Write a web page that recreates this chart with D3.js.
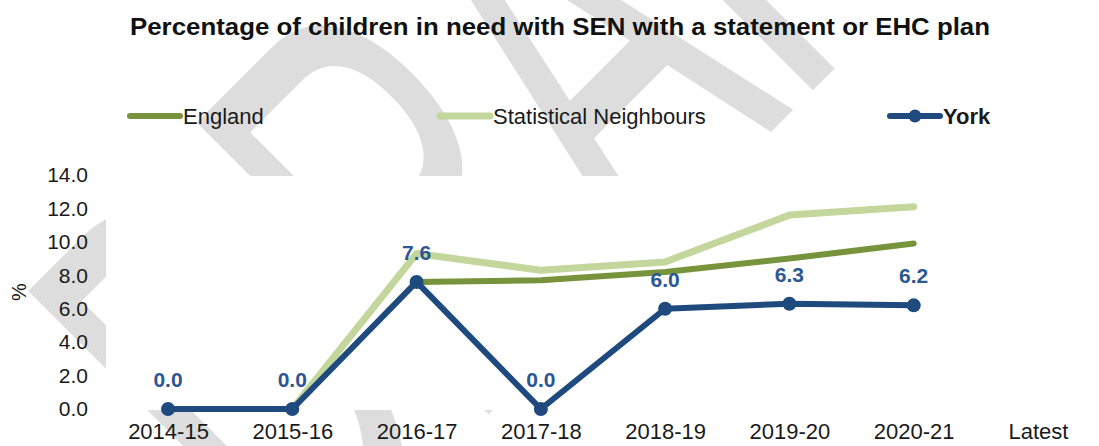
<!DOCTYPE html>
<html><head><meta charset="utf-8">
<script src="https://cdn.jsdelivr.net/npm/d3@7"></script>
<style>body{margin:0;background:#fff;overflow:hidden}</style>
</head><body><svg id="c" width="1099" height="446"></svg>
<script>
const categories = ["2014-15","2015-16","2016-17","2017-18","2018-19","2019-20","2020-21","Latest"];
const englandValues = [null, null, 7.6, 7.7, 8.2, 9.0, 9.9, null];
const statNeighValues = [null, 0.0, 9.3, 8.3, 8.8, 11.6, 12.1, null];
const yorkValues = [0.0, 0.0, 7.6, 0.0, 6.0, 6.3, 6.2, null];
const yTicks = [0, 2, 4, 6, 8, 10, 12, 14];
const seriesNames = ["England", "Statistical Neighbours", "York"];
const titleText = "Percentage of children in need with SEN with a statement or EHC plan";
const yAxisLabel = "%";
const watermarkText = "DRAFT";

const svg = d3.select("#c");
const colEng = "#77933c", colSN = "#c3d69b", colYork = "#1f4a7e", colLab = "#2c5793";

// watermark (stretched, rotated)
svg.append("text").text(watermarkText)
  .attr("transform", "translate(301,602) rotate(-45) scale(0.55,1)")
  .attr("font-family", "Liberation Sans, Arial").attr("font-weight", 400).attr("font-size", 600)
  .attr("fill", "#dddddd");

// plot area
const x = d3.scalePoint().domain(categories).range([168, 1038]);
const y = d3.scaleLinear().domain([0, 14]).range([409, 175]);
svg.append("rect").attr("x", 106).attr("y", 176).attr("width", 993).attr("height", 234).attr("fill", "#fff");

// title
svg.append("text").text(titleText).attr("x", 130).attr("y", 35)
  .attr("font-family", "Liberation Sans, Arial").attr("font-weight", 700).attr("font-size", 23)
  .attr("textLength", 860).attr("lengthAdjust", "spacingAndGlyphs").attr("fill", "#111");

// legend
const legend = [
  {name: seriesNames[0], x: 130, color: colEng, w: 6, marker: false, bold: false},
  {name: seriesNames[1], x: 440, color: colSN, w: 7, marker: false, bold: false},
  {name: seriesNames[2], x: 890, color: colYork, w: 6, marker: true, bold: true}
];
legend.forEach(l => {
  svg.append("line").attr("x1", l.x).attr("x2", l.x + 50).attr("y1", 116).attr("y2", 116)
    .attr("stroke", l.color).attr("stroke-width", l.w).attr("stroke-linecap", "round");
  if (l.marker) svg.append("circle").attr("cx", l.x + 25).attr("cy", 116).attr("r", 6.5).attr("fill", l.color);
  svg.append("text").text(l.name).attr("x", l.x + 53).attr("y", 124)
    .attr("font-family", "Liberation Sans, Arial").attr("font-size", 22)
    .attr("font-weight", l.bold ? 700 : 400).attr("fill", "#1a1a1a");
});

// y axis
const ya = svg.append("g").attr("transform", "translate(106,0)")
  .call(d3.axisLeft(y).tickValues(yTicks).tickFormat(d3.format(".1f")).tickSize(0).tickPadding(18));
ya.select(".domain").remove();
ya.selectAll("text").attr("font-family", "Liberation Sans, Arial").attr("font-size", 21).attr("fill", "#1a1a1a");

svg.append("text").text(yAxisLabel).attr("transform", "translate(26,292) rotate(-90)")
  .attr("text-anchor", "middle").attr("font-family", "Liberation Sans, Arial").attr("font-size", 20).attr("fill", "#1a1a1a");

// x axis
const xa = svg.append("g").attr("transform", "translate(0,409)")
  .call(d3.axisBottom(x).tickSize(0).tickPadding(14));
xa.select(".domain").remove();
xa.selectAll("text").attr("font-family", "Liberation Sans, Arial").attr("font-size", 22).attr("fill", "#1a1a1a");

// lines
const line = d3.line().defined(d => d.v != null).x(d => x(d.c)).y(d => y(d.v));
const mk = vals => categories.map((c, i) => ({c, v: vals[i]}));
svg.append("path").datum(mk(statNeighValues)).attr("d", line).attr("fill", "none")
  .attr("stroke", colSN).attr("stroke-width", 7).attr("stroke-linecap", "round").attr("stroke-linejoin", "round");
svg.append("path").datum(mk(englandValues)).attr("d", line).attr("fill", "none")
  .attr("stroke", colEng).attr("stroke-width", 6).attr("stroke-linecap", "round").attr("stroke-linejoin", "round");
const yd = mk(yorkValues);
svg.append("path").datum(yd).attr("d", line).attr("fill", "none")
  .attr("stroke", colYork).attr("stroke-width", 6).attr("stroke-linejoin", "round");
svg.selectAll(".pt").data(yd.filter(d => d.v != null)).enter().append("circle")
  .attr("cx", d => x(d.c)).attr("cy", d => y(d.v)).attr("r", 7).attr("fill", colYork);
svg.selectAll(".lab").data(yd.filter(d => d.v != null)).enter().append("text")
  .text(d => d3.format(".1f")(d.v)).attr("x", d => x(d.c)).attr("y", d => y(d.v) - 22)
  .attr("text-anchor", "middle").attr("font-family", "Liberation Sans, Arial").attr("font-weight", 700)
  .attr("font-size", 21).attr("fill", colLab);
</script></body></html>
